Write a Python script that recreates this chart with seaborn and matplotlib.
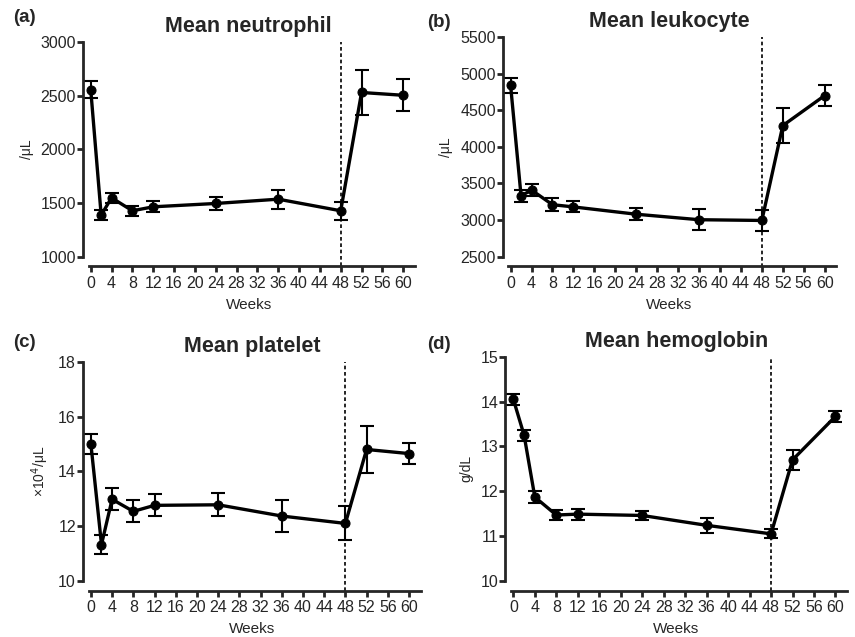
#!/usr/bin/env python3
"""Mean blood counts over weeks of treatment (4 panels, Prism-like style)."""

import numpy as np
import pandas as pd
import matplotlib
matplotlib.use("Agg")
import matplotlib.pyplot as plt
import seaborn as sns

# ── data ────────────────────────────────────────────────────────────────────
WEEKS = [0, 2, 4, 8, 12, 24, 36, 48, 52, 60]

neutrophil     = [2555, 1388, 1549, 1428, 1465, 1496, 1536, 1428, 2530, 2504]
neutrophil_err = [80, 45, 45, 45, 50, 60, 90, 85, 210, 150]

leukocyte      = [4840, 3330, 3410, 3210, 3180, 3080, 3005, 2995, 4290, 4700]
leukocyte_err  = [105, 80, 80, 85, 75, 85, 145, 145, 235, 140]

platelet       = [15.0, 11.33, 12.98, 12.54, 12.76, 12.78, 12.37, 12.10, 14.80, 14.65]
platelet_err   = [0.37, 0.33, 0.40, 0.40, 0.40, 0.42, 0.58, 0.62, 0.87, 0.39]

hemoglobin     = [14.05, 13.25, 11.87, 11.47, 11.49, 11.46, 11.24, 11.05, 12.70, 13.67]
hemoglobin_err = [0.12, 0.12, 0.13, 0.12, 0.12, 0.11, 0.17, 0.10, 0.23, 0.13]

XTICKS = list(range(0, 61, 4))

PANELS = [
    # label, title, ylabel, values, errors, yticks, axes rect, label pos (fig)
    ("(a)", "Mean neutrophil", "/\u03bcL", neutrophil, neutrophil_err,
     [1000, 1500, 2000, 2500, 3000], [0.097, 0.597, 0.388, 0.337],
     (0.015, 0.973)),
    ("(b)", "Mean leukocyte", "/\u03bcL", leukocyte, leukocyte_err,
     [2500, 3000, 3500, 4000, 4500, 5000, 5500], [0.588, 0.597, 0.390, 0.345],
     (0.499, 0.965)),
    ("(c)", "Mean platelet", "\u00d710$^4$/\u03bcL", platelet, platelet_err,
     [10, 12, 14, 16, 18], [0.097, 0.088, 0.395, 0.344],
     (0.015, 0.462)),
    ("(d)", "Mean hemoglobin", "g/dL", hemoglobin, hemoglobin_err,
     [10, 11, 12, 13, 14, 15], [0.591, 0.088, 0.400, 0.352],
     (0.499, 0.459)),
]

sns.set_style("ticks")
plt.rcParams["font.family"] = ["Liberation Sans", "DejaVu Sans"]
plt.rcParams["axes.linewidth"] = 2.0

fig = plt.figure(figsize=(8.55, 6.37), dpi=100)

for label, title, ylabel, vals, errs, yticks, rect, lpos in PANELS:
    ax = fig.add_axes(rect)
    df = pd.DataFrame({"week": WEEKS, "value": vals, "err": errs})

    ax.errorbar(df["week"], df["value"], yerr=df["err"], fmt="none",
                ecolor="black", elinewidth=1.5, capsize=5, capthick=1.5,
                zorder=2)
    sns.lineplot(data=df, x="week", y="value", ax=ax, color="black",
                 linewidth=2.4, marker="o", markersize=6.5,
                 markeredgecolor="black", zorder=3)

    ax.axvline(48, ymin=-0.045, ymax=1.0, clip_on=False, color="black",
               linestyle=(0, (2.2, 1.6)), linewidth=1.2, zorder=1)

    ax.set_xlim(-1.5, 62.2)
    ax.set_ylim(yticks[0], yticks[-1])
    ax.set_xticks(XTICKS)
    ax.set_yticks(yticks)
    ax.set_xlabel("Weeks", fontsize=11, labelpad=5)
    ax.set_ylabel(ylabel, fontsize=10, labelpad=5)

    sns.despine(ax=ax)
    ax.spines["bottom"].set_position(("outward", 7))
    ax.spines["bottom"].set_bounds(-0.4, 62.2)
    ax.tick_params(axis="both", direction="out", length=4, width=2,
                   labelsize=11.5, pad=1)
    ax.tick_params(axis="x", pad=3)

    ax.set_title(title, fontsize=15.5, fontweight="bold", pad=7)
    fig.text(lpos[0], lpos[1], label, fontsize=13.5, fontweight="bold",
             ha="left", va="center")

fig.savefig("out.png", dpi=100)
